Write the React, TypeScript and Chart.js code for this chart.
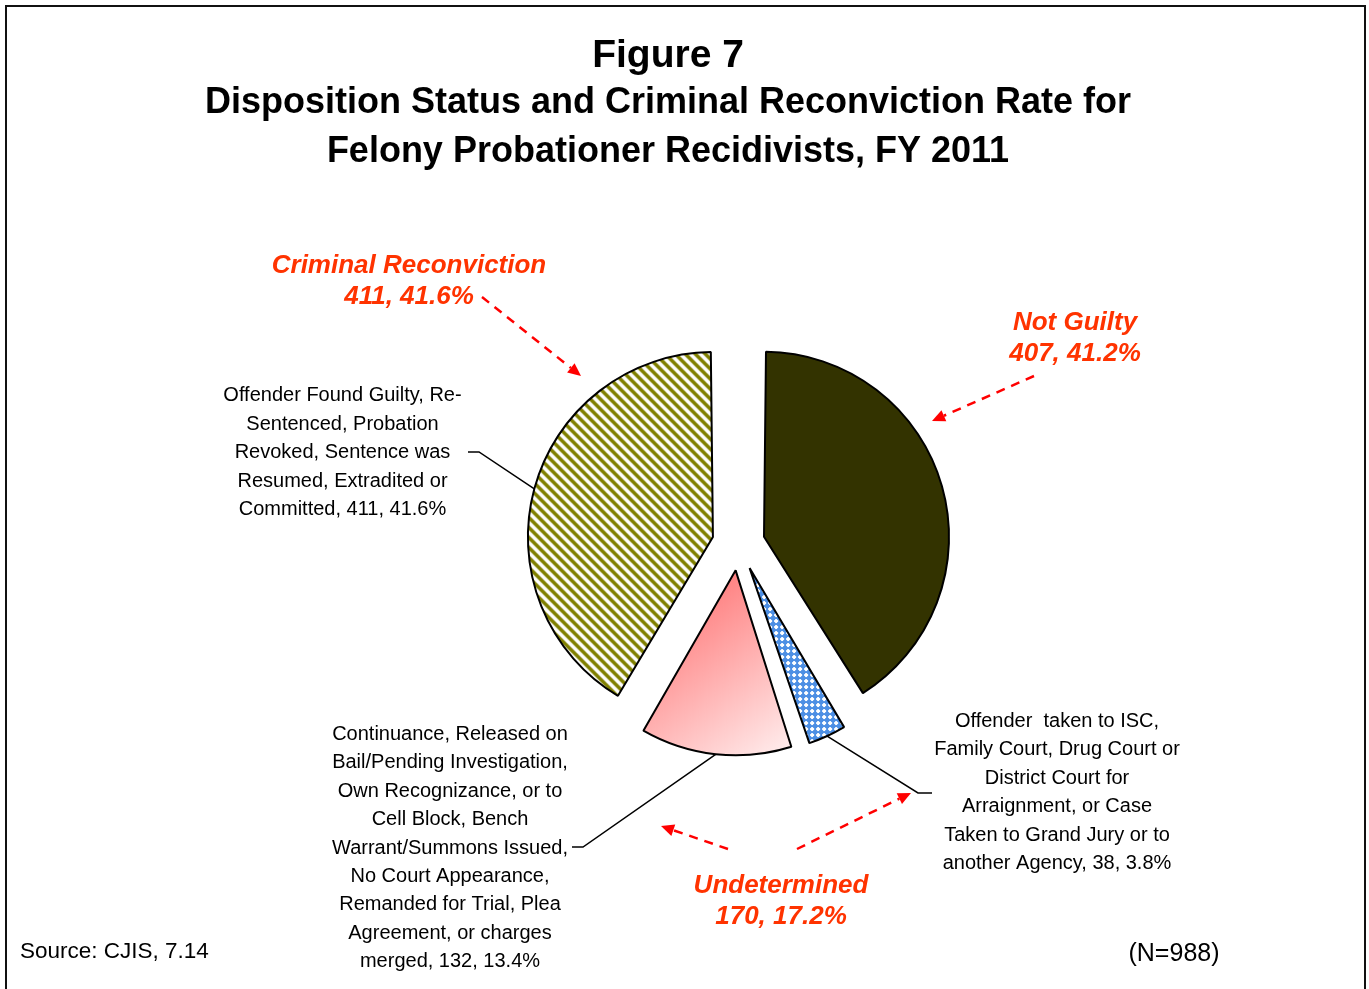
import React, { useEffect, useRef } from "react";
import { Chart, registerables } from "chart.js";

Chart.register(...registerables);

// ---------- data ----------
const categories = [
  "Not Guilty",
  "Offender taken to ISC, Family Court, Drug Court or District Court for Arraignment, or Case Taken to Grand Jury or to another Agency",
  "Continuance, Released on Bail/Pending Investigation, Own Recognizance, or to Cell Block, Bench Warrant/Summons Issued, No Court Appearance, Remanded for Trial, Plea Agreement, or charges merged",
  "Offender Found Guilty, Re-Sentenced, Probation Revoked, Sentence was Resumed, Extradited or Committed",
];
const counts = [407, 38, 132, 411];

const titleLines = [
  "Figure 7",
  "Disposition Status and Criminal Reconviction Rate for",
  "Felony Probationer Recidivists, FY 2011",
];
const reconvictionLines = [
  "Offender Found Guilty, Re-",
  "Sentenced, Probation",
  "Revoked, Sentence was",
  "Resumed, Extradited or",
  "Committed, 411, 41.6%",
];
const otherCourtLines = [
  "Offender  taken to ISC,",
  "Family Court, Drug Court or",
  "District Court for",
  "Arraignment, or Case",
  "Taken to Grand Jury or to",
  "another Agency, 38, 3.8%",
];
const continuanceLines = [
  "Continuance, Released on",
  "Bail/Pending Investigation,",
  "Own Recognizance, or to",
  "Cell Block, Bench",
  "Warrant/Summons Issued,",
  "No Court Appearance,",
  "Remanded for Trial, Plea",
  "Agreement, or charges",
  "merged, 132, 13.4%",
];
const groupNames = ["Criminal Reconviction", "Not Guilty", "Undetermined"];
const groupValues = ["411, 41.6%", "407, 41.2%", "170, 17.2%"];
const sourceText = "Source: CJIS, 7.14";
const totalText = "(N=988)";

// ---------- style constants ----------
const FONT = "'Liberation Sans', Arial, Helvetica, sans-serif";
const PIE_RADIUS = 185;
const SHIFT = 26.5; // px each slice is pulled out
const OFFSET_DIV = 4; // chart.js arc draws offset / 4
const RED = "#ff3300";

function makeStripePattern(ctx: CanvasRenderingContext2D) {
  const s = 10;
  const c = document.createElement("canvas");
  c.width = s;
  c.height = s;
  const g = c.getContext("2d")!;
  g.fillStyle = "#ffffff";
  g.fillRect(0, 0, s, s);
  g.strokeStyle = "#808000";
  g.lineWidth = 3.6;
  g.beginPath();
  for (const k of [-s, 0, s]) {
    g.moveTo(k - 1, -1);
    g.lineTo(k + s + 1, s + 1);
  }
  g.stroke();
  return ctx.createPattern(c, "repeat")!;
}

function makeCheckPattern(ctx: CanvasRenderingContext2D) {
  const s = 6;
  const c = document.createElement("canvas");
  c.width = s;
  c.height = s;
  const g = c.getContext("2d")!;
  g.fillStyle = "#4d8fe4";
  g.fillRect(0, 0, s, s);
  g.fillStyle = "#ffffff";
  g.fillRect(2, 1, 2, 4);
  g.fillRect(1, 2, 4, 2);
  return ctx.createPattern(c, "repeat")!;
}

function drawLines(
  ctx: CanvasRenderingContext2D,
  lines: string[],
  cx: number,
  y0: number,
  lh: number,
  font: string,
  color: string
) {
  ctx.save();
  ctx.font = font;
  ctx.fillStyle = color;
  ctx.textAlign = "center";
  ctx.textBaseline = "alphabetic";
  lines.forEach((t, i) => ctx.fillText(t, cx, y0 + i * lh));
  ctx.restore();
}

function dashedArrow(ctx: CanvasRenderingContext2D, x1: number, y1: number, x2: number, y2: number) {
  const ang = Math.atan2(y2 - y1, x2 - x1);
  const head = 13;
  const hw = 6;
  const bx = x2 - Math.cos(ang) * head;
  const by = y2 - Math.sin(ang) * head;
  ctx.save();
  ctx.strokeStyle = "#ff0000";
  ctx.lineWidth = 2.5;
  ctx.setLineDash([9, 7]);
  ctx.beginPath();
  ctx.moveTo(x1, y1);
  ctx.lineTo(bx, by);
  ctx.stroke();
  ctx.setLineDash([]);
  ctx.fillStyle = "#ff0000";
  ctx.beginPath();
  ctx.moveTo(x2, y2);
  ctx.lineTo(bx - Math.sin(ang) * hw, by + Math.cos(ang) * hw);
  ctx.lineTo(bx + Math.sin(ang) * hw, by - Math.cos(ang) * hw);
  ctx.closePath();
  ctx.fill();
  ctx.restore();
}

function arcAttach(arc: any): [number, number] {
  const mid = (arc.startAngle + arc.endAngle) / 2;
  const r = SHIFT + PIE_RADIUS;
  return [arc.x + Math.cos(mid) * r, arc.y + Math.sin(mid) * r];
}

function leader(ctx: CanvasRenderingContext2D, pts: [number, number][]) {
  ctx.save();
  ctx.strokeStyle = "#000000";
  ctx.lineWidth = 1.5;
  ctx.beginPath();
  pts.forEach(([x, y], i) => (i ? ctx.lineTo(x, y) : ctx.moveTo(x, y)));
  ctx.stroke();
  ctx.restore();
}

// keeps every exploded slice at the same drawn radius
const equalRadiusPlugin = {
  id: "equalRadius",
  afterDatasetUpdate(chart: any, args: any) {
    const meta = chart.getDatasetMeta(args.index);
    meta.data.forEach((arc: any) => {
      const fix = 1 - Math.sin(Math.min(Math.PI, arc.circumference || 0));
      arc.outerRadius = PIE_RADIUS - SHIFT * fix;
    });
  },
};

const annotationPlugin = {
  id: "annotations",
  afterDraw(chart: any) {
    const ctx: CanvasRenderingContext2D = chart.ctx;
    const arcs = chart.getDatasetMeta(0).data;

    // frame
    ctx.save();
    ctx.strokeStyle = "#111111";
    ctx.lineWidth = 2;
    ctx.strokeRect(6, 6, 1359, 1010);
    ctx.restore();

    // title
    drawLines(ctx, [titleLines[0]], 668, 67, 0, `bold 39px ${FONT}`, "#000");
    drawLines(ctx, titleLines.slice(1), 668, 113, 49, `bold 36px ${FONT}`, "#000");

    // red group labels
    const redFont = `italic bold 26px ${FONT}`;
    drawLines(ctx, [groupNames[0], groupValues[0]], 409, 273, 31, redFont, RED);
    drawLines(ctx, [groupNames[1], groupValues[1]], 1075, 330, 31, redFont, RED);
    drawLines(ctx, [groupNames[2], groupValues[2]], 781, 893, 31, redFont, RED);

    // red dashed arrows
    dashedArrow(ctx, 482, 297, 581, 376);
    dashedArrow(ctx, 1034, 376, 932, 421);
    dashedArrow(ctx, 728, 849, 661, 826);
    dashedArrow(ctx, 797, 849, 911, 793);

    // black slice labels
    const lblFont = `20px ${FONT}`;
    drawLines(ctx, reconvictionLines, 342.5, 401, 28.5, lblFont, "#000");
    drawLines(ctx, otherCourtLines, 1057, 727, 28.4, lblFont, "#000");
    drawLines(ctx, continuanceLines, 450, 740, 28.4, lblFont, "#000");

    // leader lines
    if (arcs.length === 4) {
      leader(ctx, [arcAttach(arcs[3]), [479, 452], [468, 452]]);
      leader(ctx, [arcAttach(arcs[1]), [918, 793], [932, 793]]);
      leader(ctx, [arcAttach(arcs[2]), [583, 847], [572, 847]]);
    }

    // source & N
    ctx.save();
    ctx.font = `22.5px ${FONT}`;
    ctx.fillStyle = "#000";
    ctx.textAlign = "left";
    ctx.fillText(sourceText, 20, 958);
    ctx.font = `25px ${FONT}`;
    ctx.textAlign = "center";
    ctx.fillText(totalText, 1174, 961);
    ctx.restore();
  },
};

export default function App() {
  const ref = useRef<HTMLCanvasElement | null>(null);

  useEffect(() => {
    const canvas = ref.current;
    if (!canvas) return;
    const ctx2d = canvas.getContext("2d")!;
    const stripes = makeStripePattern(ctx2d);
    const checks = makeCheckPattern(ctx2d);

    const pinkGradient = (c: any) => {
      const chart = c.chart;
      const area = chart.chartArea;
      if (!area) return "#ff9f9f";
      const data: number[] = c.dataset.data;
      const total = data.reduce((a, b) => a + b, 0);
      const i = c.dataIndex;
      const before = data.slice(0, i).reduce((a, b) => a + b, 0);
      const start = -Math.PI / 2 + (2 * Math.PI * before) / total;
      const end = start + (2 * Math.PI * data[i]) / total;
      const mid = (start + end) / 2;
      const cx = (area.left + area.right) / 2 + Math.cos(mid) * SHIFT;
      const cy = (area.top + area.bottom) / 2 + Math.sin(mid) * SHIFT;
      const R = PIE_RADIUS;
      const g = chart.ctx.createLinearGradient(cx - 0.35 * R, cy + 0.05 * R, cx + 0.35 * R, cy + R);
      g.addColorStop(0, "#ff7b7b");
      g.addColorStop(1, "#ffffff");
      return g;
    };

    const fills = ["#333300", checks, null, stripes];

    const chart = new Chart(canvas, {
      type: "pie",
      data: {
        labels: categories,
        datasets: [
          {
            data: counts,
            backgroundColor: (c: any) => (c.dataIndex === 2 ? pinkGradient(c) : fills[c.dataIndex]),
            borderColor: "#000000",
            borderWidth: 2,
            offset: SHIFT * OFFSET_DIV,
            hoverOffset: SHIFT * OFFSET_DIV,
            radius: PIE_RADIUS,
          } as any,
        ],
      },
      options: {
        responsive: false,
        maintainAspectRatio: false,
        animation: false,
        events: [],
        radius: PIE_RADIUS,
        layout: { padding: { left: 108, right: 0, top: 99, bottom: 0 } },
        plugins: {
          legend: { display: false },
          tooltip: { enabled: false },
          title: { display: false },
        },
      } as any,
      plugins: [equalRadiusPlugin, annotationPlugin],
    });
    return () => chart.destroy();
  }, []);

  return (
    <div style={{ position: "absolute", left: 0, top: 0, width: 1369, height: 989, background: "#ffffff" }}>
      <canvas ref={ref} width={1369} height={989} style={{ display: "block" }} />
    </div>
  );
}
